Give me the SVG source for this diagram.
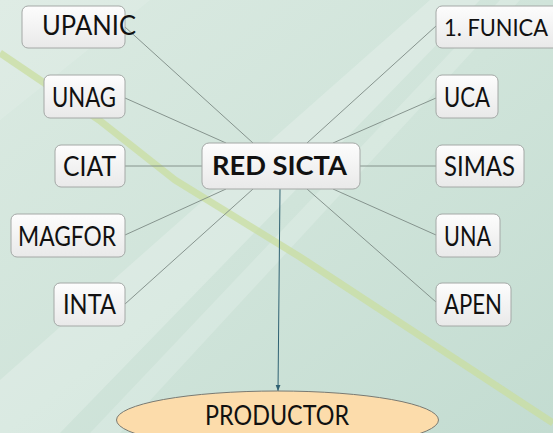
<svg xmlns="http://www.w3.org/2000/svg" width="553" height="433" viewBox="0 0 553 433">
<defs>
<linearGradient id="bg" x1="0" y1="0" x2="1" y2="1">
<stop offset="0" stop-color="#dbeae2"/>
<stop offset="0.5" stop-color="#d0e4da"/>
<stop offset="1" stop-color="#c3dcd1"/>
</linearGradient>
<linearGradient id="box" x1="0" y1="0" x2="0" y2="1">
<stop offset="0" stop-color="#fdfdfd"/>
<stop offset="1" stop-color="#e9e9e9"/>
</linearGradient>
<marker id="arr" viewBox="0 0 10 10" refX="10" refY="5" markerWidth="6" markerHeight="6" orient="auto">
<path d="M0,1 L10,5 L0,9 z" fill="#2f6172"/>
</marker>
<style>
.n{fill:url(#box);stroke:#a4a8a6;stroke-width:1}
.t{font-family:Lato,"Liberation Sans",Arial,sans-serif;font-size:26px;fill:#111}
.b{font-weight:bold;font-size:26px}
.s{font-size:24px}
.c{stroke:#7d8a84;stroke-width:0.9;fill:none}
</style>
</defs>
<rect width="553" height="433" fill="url(#bg)"/>
<g id="background">
<polygon points="0,433 0,380 430,0 480,0 60,433" fill="#ffffff" opacity="0.22"/>
<polygon points="90,433 500,0 520,0 120,433" fill="#ffffff" opacity="0.18"/>
<polygon points="0,0 150,0 0,120" fill="#ffffff" opacity="0.12"/>
<path d="M0,53 L99,120 L175,180 L300,257 L553,423" stroke="#c9dea0" stroke-width="7" stroke-linejoin="round" fill="none" opacity="0.75"/>
</g>
<g id="connectors">
<line class="c" x1="125" y1="27" x2="253" y2="143"/>
<line class="c" x1="125" y1="98" x2="226" y2="143"/>
<line class="c" x1="125" y1="166" x2="202" y2="166"/>
<line class="c" x1="125" y1="235" x2="226" y2="189"/>
<line class="c" x1="125" y1="304" x2="253" y2="189"/>
<line class="c" x1="436" y1="26" x2="307" y2="143"/>
<line class="c" x1="436" y1="98" x2="333" y2="143"/>
<line class="c" x1="436" y1="166" x2="360" y2="166"/>
<line class="c" x1="436" y1="235" x2="333" y2="189"/>
<line class="c" x1="436" y1="302" x2="307" y2="189"/>
<line x1="280" y1="189" x2="278" y2="391" stroke="#2f6172" stroke-width="1" marker-end="url(#arr)"/>
</g>
<g id="upanic"><rect class="n" x="22" y="6" width="103" height="42" rx="6"/><text class="t" x="42" y="35" textLength="94" lengthAdjust="spacingAndGlyphs">UPANIC</text></g>
<g id="unag"><rect class="n" x="44" y="75" width="81" height="43" rx="6"/><text class="t" x="52" y="107" textLength="64" lengthAdjust="spacingAndGlyphs">UNAG</text></g>
<g id="ciat"><rect class="n" x="55" y="145" width="70" height="42" rx="6"/><text class="t" x="63" y="176" textLength="53" lengthAdjust="spacingAndGlyphs">CIAT</text></g>
<g id="magfor"><rect class="n" x="11" y="214" width="114" height="43" rx="6"/><text class="t" x="18" y="246" textLength="98" lengthAdjust="spacingAndGlyphs">MAGFOR</text></g>
<g id="inta"><rect class="n" x="54" y="283" width="71" height="43" rx="6"/><text class="t" x="63" y="314" textLength="53" lengthAdjust="spacingAndGlyphs">INTA</text></g>
<g id="funica"><rect class="n" x="436" y="6" width="130" height="42" rx="6"/><text class="t s" x="444" y="36" textLength="104" lengthAdjust="spacingAndGlyphs">1. FUNICA</text></g>
<g id="uca"><rect class="n" x="436" y="75" width="62" height="43" rx="6"/><text class="t" x="444" y="107" textLength="46" lengthAdjust="spacingAndGlyphs">UCA</text></g>
<g id="simas"><rect class="n" x="436" y="145" width="88" height="42" rx="6"/><text class="t" x="444" y="176" textLength="71" lengthAdjust="spacingAndGlyphs">SIMAS</text></g>
<g id="una"><rect class="n" x="436" y="214" width="64" height="43" rx="6"/><text class="t" x="444" y="246" textLength="47" lengthAdjust="spacingAndGlyphs">UNA</text></g>
<g id="apen"><rect class="n" x="436" y="283" width="75" height="43" rx="6"/><text class="t" x="444" y="314" textLength="58" lengthAdjust="spacingAndGlyphs">APEN</text></g>
<g id="redsicta"><rect class="n" x="202" y="143" width="158" height="46" rx="7"/><text class="t b" x="212" y="175" textLength="135" lengthAdjust="spacingAndGlyphs">RED SICTA</text></g>
<g id="productor"><ellipse cx="277.5" cy="420" rx="161" ry="29" fill="#fcdcab" stroke="#7a7a72" stroke-width="1"/><text class="t" x="205" y="425" textLength="144" lengthAdjust="spacingAndGlyphs">PRODUCTOR</text></g>
</svg>
